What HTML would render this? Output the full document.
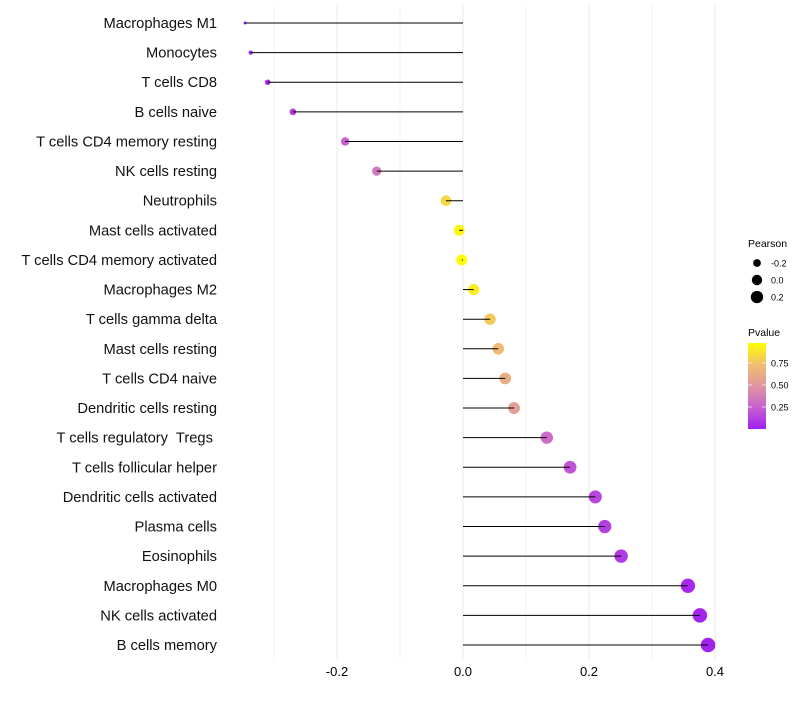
<!DOCTYPE html>
<html><head><meta charset="utf-8"><style>
body{margin:0;background:#fff;font-family:"Liberation Sans",sans-serif}
text{white-space:pre}
</style></head><body>
<svg id="c" width="800" height="700" xmlns="http://www.w3.org/2000/svg"></svg>
<script>
const categories=["Macrophages M1","Monocytes","T cells CD8","B cells naive","T cells CD4 memory resting","NK cells resting","Neutrophils","Mast cells activated","T cells CD4 memory activated","Macrophages M2","T cells gamma delta","Mast cells resting","T cells CD4 naive","Dendritic cells resting","T cells regulatory  Tregs ","T cells follicular helper","Dendritic cells activated","Plasma cells","Eosinophils","Macrophages M0","NK cells activated","B cells memory"];
const pearson=[-0.346,-0.337,-0.310,-0.270,-0.187,-0.137,-0.027,-0.006,-0.002,0.017,0.043,0.056,0.067,0.081,0.133,0.170,0.210,0.225,0.251,0.357,0.376,0.389];
const pvalue=[0.02,0.03,0.05,0.1,0.25,0.35,0.85,0.97,0.99,0.93,0.8,0.72,0.65,0.55,0.3,0.2,0.15,0.12,0.1,0.03,0.02,0.01];
const xTicks=[-0.2,0.0,0.2,0.4];
const xMinor=[-0.3,-0.1,0.1,0.3];
const sizeLegend=[-0.2,0.0,0.2];
const colorTicks=[0.25,0.5,0.75];

const NS="http://www.w3.org/2000/svg";
const svg=document.getElementById('c');
function mk(t,a,p){const e=document.createElementNS(NS,t);for(const k in a)e.setAttribute(k,a[k]);(p||svg).appendChild(e);return e;}
const x=v=>463+v*630;
const y=i=>23+i*(645-23)/21;
const pmin=Math.min(...pearson),pmax=Math.max(...pearson);
const r=v=>1.5+5.8*Math.sqrt(Math.max(0,(v-pmin)/(pmax-pmin)));
const stops=[[0,[160,32,240]],[0.25,[200,96,208]],[0.5,[224,150,160]],[0.75,[240,190,112]],[1,[255,255,0]]];
function col(p){p=Math.max(0,Math.min(1,p));for(let i=1;i<stops.length;i++){if(p<=stops[i][0]){const a=stops[i-1],b=stops[i],t=(p-a[0])/(b[0]-a[0]);return 'rgb('+a[1].map((c,k)=>Math.round(c+(b[1][k]-c)*t)).join(',')+')';}}}
xMinor.forEach(v=>{const l=mk('line',{x1:x(v),x2:x(v),y1:5,y2:660,stroke:'#f3f3f3','stroke-width':1});
});
xTicks.forEach(v=>{const l=mk('line',{x1:x(v),x2:x(v),y1:5,y2:660,stroke:'#ebebeb','stroke-width':1});

const t=mk('text',{x:x(v),y:676,'text-anchor':'middle','font-size':13,fill:'#000'});t.textContent=v.toFixed(1);
});
categories.forEach((c,i)=>{
const t=mk('text',{x:217,y:y(i)+5,'text-anchor':'end','font-size':14.7,fill:'#111'});t.textContent=c;

const d=mk('circle',{cx:x(pearson[i]),cy:y(i),r:r(pearson[i]),fill:col(pvalue[i])});

const l=mk('line',{x1:x(0),x2:x(pearson[i]),y1:y(i),y2:y(i),stroke:'#000','stroke-width':1});

});
const lt=mk('text',{x:748,y:247,'font-size':10.5});lt.textContent='Pearson';

sizeLegend.forEach((v,k)=>{const cy=263+k*17;
const c=mk('circle',{cx:757,cy:cy,r:r(v)*0.95,fill:'#000'});
const t=mk('text',{x:771,y:cy+3.5,'font-size':9});t.textContent=v.toFixed(1);
});
const pt=mk('text',{x:748,y:336,'font-size':10.5});pt.textContent='Pvalue';

const defs=mk('defs',{});const g=mk('linearGradient',{id:'gr',x1:0,y1:1,x2:0,y2:0},defs);
stops.forEach(s=>mk('stop',{offset:s[0],'stop-color':col(s[0])},g));
const bar=mk('rect',{x:748,y:343,width:18,height:86,fill:'url(#gr)'});

const cy=p=>428-(p-0.011)/(0.977-0.011)*85;
colorTicks.forEach(v=>{
mk('line',{x1:748,x2:752,y1:cy(v),y2:cy(v),stroke:'#fff','stroke-opacity':0.7});
mk('line',{x1:762,x2:766,y1:cy(v),y2:cy(v),stroke:'#fff','stroke-opacity':0.7});
const t=mk('text',{x:771,y:cy(v)+3.5,'font-size':9});t.textContent=v.toFixed(2);
});
</script>
</body></html>
